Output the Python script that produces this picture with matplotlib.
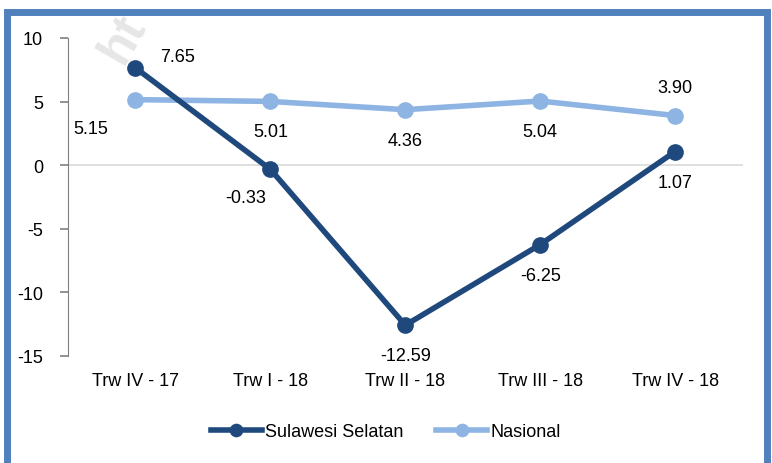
import matplotlib.pyplot as plt
from matplotlib.patches import Rectangle

categories = ['Trw IV - 17', 'Trw I - 18', 'Trw II - 18', 'Trw III - 18', 'Trw IV - 18']
sulsel = [7.65, -0.33, -12.59, -6.25, 1.07]
nasional = [5.15, 5.01, 4.36, 5.04, 3.90]

# label offsets in points (dx, dy)
sulsel_off = [(30, 8), (-18, -20), (0, -22), (0, -22), (0, -22)]
nasional_off = [(-32, -21), (0, -22), (0, -22), (0, -22), (0, 20)]

plt.rcParams['font.family'] = ['Liberation Sans Narrow', 'Liberation Sans', 'DejaVu Sans']
plt.rcParams['axes.unicode_minus'] = False

fig = plt.figure(figsize=(7.72, 4.64), dpi=100)
ax = fig.add_axes([0.088, 0.231, 0.874, 0.685])

dark = '#1F497D'
light = '#8DB4E2'
x = range(len(categories))

ax.axhline(0, color='#D9D9D9', lw=1.2, zorder=1)
ax.plot(x, nasional, color=light, lw=4, marker='o', ms=11, label='Nasional', zorder=3)
ax.plot(x, sulsel, color=dark, lw=4, marker='o', ms=11, label='Sulawesi Selatan', zorder=4)

for i, v in enumerate(sulsel):
    ax.annotate('%.2f' % v, (i, v), xytext=sulsel_off[i], textcoords='offset points',
                ha='center', va='center', fontsize=13)
for i, v in enumerate(nasional):
    ax.annotate('%.2f' % v, (i, v), xytext=nasional_off[i], textcoords='offset points',
                ha='center', va='center', fontsize=13)

ax.set_xlim(-0.5, 4.5)
ax.set_ylim(-15, 10)
ax.set_yticks([10, 5, 0, -5, -10, -15])
ax.set_xticks(list(x))
ax.set_xticklabels(categories)
for s in ['top', 'right', 'bottom']:
    ax.spines[s].set_visible(False)
ax.spines['left'].set_color('#808080')
ax.tick_params(axis='y', colors='#808080', labelcolor='black', length=6, width=1.2, labelsize=13, pad=12)
ax.tick_params(axis='x', length=0, labelsize=13, pad=12)

handles, labels = ax.get_legend_handles_labels()
fig.legend(handles[::-1], labels[::-1], loc='center', bbox_to_anchor=(0.5, 0.067), ncol=2,
           frameon=False, fontsize=13, handlelength=2.8, handletextpad=0.2, columnspacing=1.8,
           markerscale=0.8)

# watermark
fig.text(0.16, 0.915, 'ht', fontsize=36, color='#E6E6E6', rotation=60, ha='center', va='center',
         fontweight='bold', zorder=0)

# frame
fig.patches.append(Rectangle((0.0085, -0.02), 0.985, 0.993, transform=fig.transFigure,
                             fill=False, edgecolor='#4F81BD', lw=5))

fig.savefig('out.png', dpi=100)
